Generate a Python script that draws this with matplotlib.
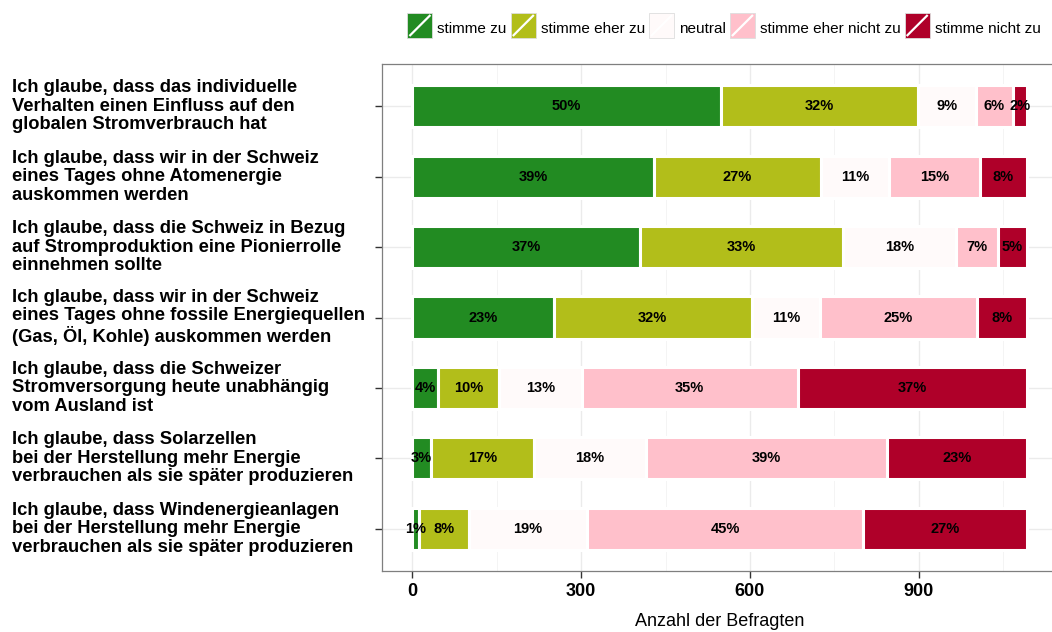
import matplotlib
matplotlib.use("Agg")
import matplotlib.pyplot as plt
import numpy as np
from matplotlib.patches import Rectangle, Patch
from matplotlib.lines import Line2D
from matplotlib.legend_handler import HandlerBase
from matplotlib.transforms import blended_transform_factory

plt.rcParams['font.family'] = ['Liberation Sans', 'DejaVu Sans']

questions = [
    "Ich glaube, dass das individuelle\nVerhalten einen Einfluss auf den\nglobalen Stromverbrauch hat",
    "Ich glaube, dass wir in der Schweiz\neines Tages ohne Atomenergie\nauskommen werden",
    "Ich glaube, dass die Schweiz in Bezug\nauf Stromproduktion eine Pionierrolle\neinnehmen sollte",
    "Ich glaube, dass wir in der Schweiz\neines Tages ohne fossile Energiequellen\n(Gas, Öl, Kohle) auskommen werden",
    "Ich glaube, dass die Schweizer\nStromversorgung heute unabhängig\nvom Ausland ist",
    "Ich glaube, dass Solarzellen\nbei der Herstellung mehr Energie\nverbrauchen als sie später produzieren",
    "Ich glaube, dass Windenergieanlagen\nbei der Herstellung mehr Energie\nverbrauchen als sie später produzieren",
]
responses = ["stimme zu", "stimme eher zu", "neutral", "stimme eher nicht zu", "stimme nicht zu"]
colors = ["#228B22", "#B2BE1A", "#FFFAFA", "#FFC0CB", "#AF0029"]

stimme_zu = [548, 429, 404, 251, 45, 33, 12]
stimme_eher_zu = [350, 297, 362, 352, 110, 183, 88]
neutral = [103, 121, 200, 122, 146, 199, 211]
stimme_eher_nicht_zu = [67, 162, 74, 278, 384, 429, 490]
stimme_nicht_zu = [24, 83, 52, 89, 407, 248, 291]
series = [stimme_zu, stimme_eher_zu, neutral, stimme_eher_nicht_zu, stimme_nicht_zu]

x_major = [0, 300, 600, 900]
x_minor = [150, 450, 750, 1050]
x_label = "Anzahl der Befragten"

W, H = 1052, 632
fig = plt.figure(figsize=(W / 100, H / 100), dpi=100)
ax = fig.add_axes([381.5 / W, (H - 571) / H, (1057.6 - 381.5) / W, (571 - 64) / H])

n = len(questions)
ypos = np.arange(n, 0, -1)
totals = np.sum(np.array(series), axis=0)

left = np.zeros(n)
for vals, col in zip(series, colors):
    vals = np.array(vals, dtype=float)
    ax.barh(ypos, vals, left=left, height=0.6, color=col, edgecolor="white",
            linewidth=2.2, zorder=2)
    for y, l, v, t in zip(ypos, left, vals, totals):
        pct = int(np.floor(100 * v / t + 0.5))
        ax.text(l + v / 2, y, f"{pct}%", ha="center", va="center",
                fontsize=10.5, fontweight="bold", color="black", zorder=3)
    left += vals

tmax = totals.max()
ax.set_xlim(-0.05 * tmax, 1.05 * tmax)
ax.set_ylim(0.4, n + 0.6)

ax.set_xticks(x_major)
ax.set_xticks(x_minor, minor=True)
ax.set_xticklabels([str(v) for v in x_major], fontsize=13, fontweight="bold")
ax.set_yticks(ypos)
ax.set_yticklabels([])
ax.set_axisbelow(True)
ax.grid(which="major", axis="x", color="#ebebeb", lw=1.0, zorder=0)
ax.grid(which="minor", axis="x", color="#f3f3f3", lw=0.6, zorder=0)
ax.grid(which="major", axis="y", color="#ebebeb", lw=1.0, zorder=0)
ax.tick_params(axis="both", which="major", length=5, width=1, color="#333333",
               direction="out", pad=4)
ax.tick_params(axis="both", which="minor", length=0)
for sp in ax.spines.values():
    sp.set_color("#7f7f7f")
    sp.set_linewidth(0.9)
ax.spines["right"].set_visible(False)

trans = blended_transform_factory(fig.transFigure, ax.transData)
for y, q in zip(ypos, questions):
    ax.text(12 / W, y, q, transform=trans, ha="left", va="center", fontsize=13.2,
            fontweight="bold", linespacing=1.12, clip_on=False)

ax.set_xlabel(x_label, fontsize=13, va="center")
ax.xaxis.set_label_coords(0.5, (571 - 622) / (571 - 64))


class SlashHandler(HandlerBase):
    def create_artists(self, legend, orig_handle, xdescent, ydescent, width,
                       height, fontsize, trans):
        x0 = -xdescent
        cy = (-ydescent + height) / 2.0
        side = width
        y0 = cy - side / 2.0
        r = Rectangle((x0, y0), side, side, facecolor=orig_handle.get_facecolor(),
                      edgecolor="#dddddd", lw=0.6, transform=trans)
        ln = Line2D([x0 + 2, x0 + side - 2], [y0 + 2, y0 + side - 2],
                    color="white", lw=1.6, transform=trans)
        return [r, ln]


fs = 11
fpx = fs * 100 / 72
handles = [Patch(facecolor=c, label=r) for c, r in zip(colors, responses)]
fig.legend(handles, responses, loc="center", bbox_to_anchor=(724 / W, 1 - 28 / H),
           ncol=5, frameon=False, fontsize=fs, handlelength=25 / fpx,
           handleheight=25 / fpx, handletextpad=5 / fpx, columnspacing=4 / fpx,
           borderaxespad=0, borderpad=0, handler_map={Patch: SlashHandler()})

fig.savefig("out.png", dpi=100)
